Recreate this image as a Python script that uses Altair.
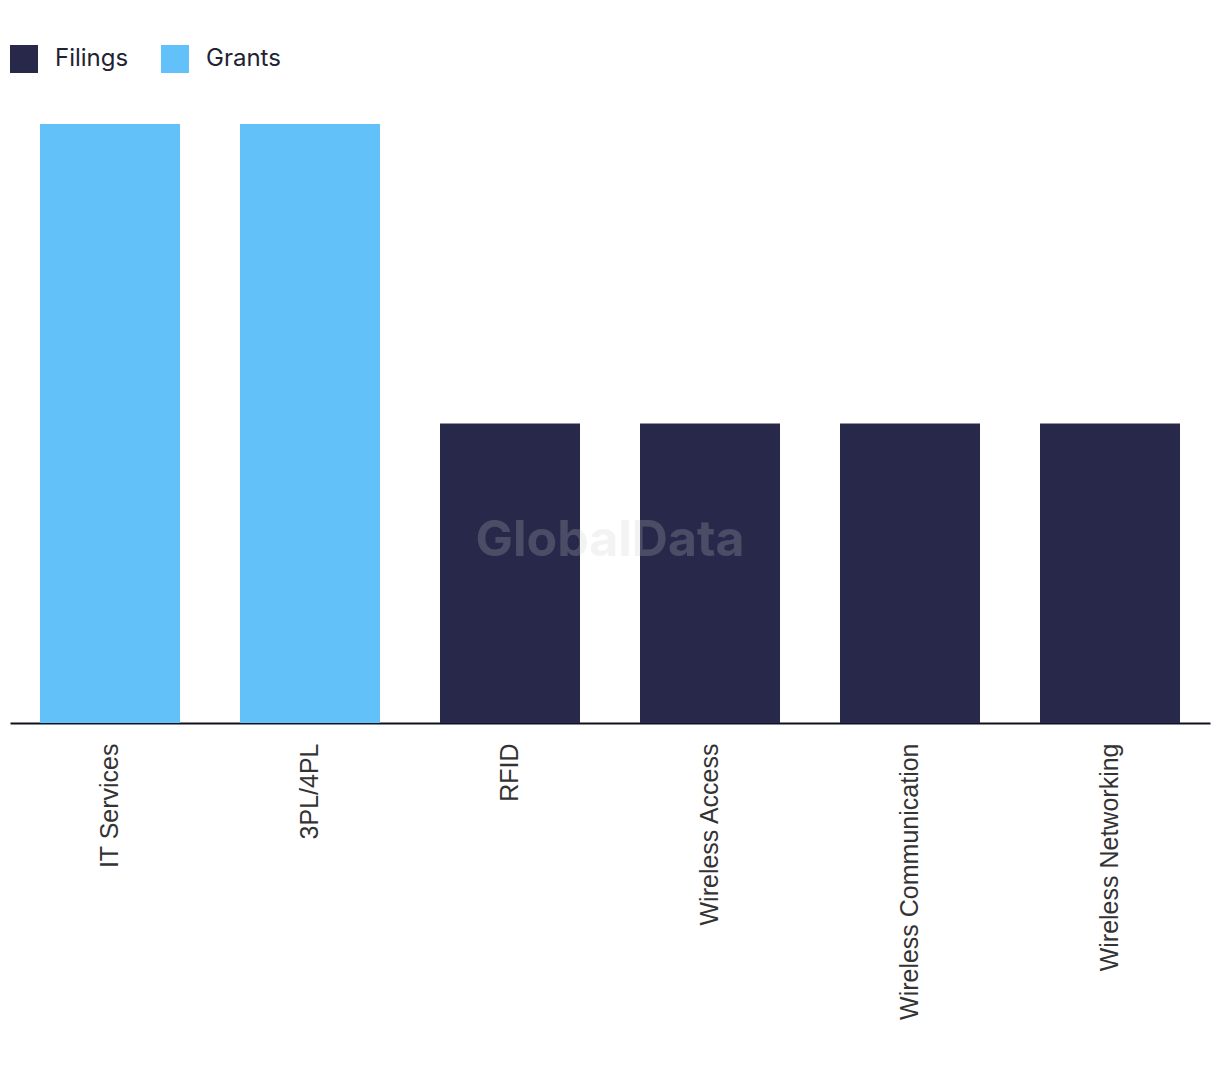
import altair as alt
import pandas as pd

categories = ["IT Services", "3PL/4PL", "RFID", "Wireless Access", "Wireless Communication", "Wireless Networking"]
filings = [0, 0, 1, 1, 1, 1]
grants = [2, 2, 0, 0, 0, 0]

rows = []
for c, f, g in zip(categories, filings, grants):
    rows.append({"category": c, "type": "Filings", "value": f})
    rows.append({"category": c, "type": "Grants", "value": g})
df = pd.DataFrame(rows)

bars = alt.Chart(df).mark_bar().encode(
    x=alt.X("category:N", sort=categories,
            scale=alt.Scale(paddingInner=0.3, paddingOuter=0.15),
            axis=alt.Axis(title=None, labelAngle=270, labelFontSize=25, labelColor="#333333",
                          labelFont="Liberation Sans", labelPadding=20, ticks=False,
                          labelLimit=0, domainColor="#111122", domainWidth=2,
                          labelAlign="right", labelBaseline="middle")),
    y=alt.Y("value:Q", stack="zero", scale=alt.Scale(domain=[0, 2], nice=False),
            axis=None),
    color=alt.Color("type:N", sort=["Filings", "Grants"],
                    scale=alt.Scale(domain=["Filings", "Grants"], range=["#28284b", "#63c1f9"]),
                    legend=alt.Legend(title=None, orient="none", legendX=0, legendY=-79,
                                      direction="horizontal", symbolType="square",
                                      symbolSize=784, symbolStrokeWidth=0, symbolOpacity=1,
                                      labelFontSize=24, labelFont="Inter", labelColor="#222233",
                                      labelOffset=17, columnPadding=32)),
    order=alt.Order("type:N"),
)

watermark = alt.Chart(pd.DataFrame({"t": ["GlobalData"]})).mark_text(
    fontSize=50, fontWeight="bold", font="Inter", color="#cbcbcb", opacity=0.22,
    align="center", baseline="middle"
).encode(text="t:N", x=alt.value(600), y=alt.value(417))

chart = alt.layer(bars, watermark).properties(
    width=1200, height=599,
    autosize=alt.AutoSizeParams(type="none"),
    padding={"left": 2, "top": 116, "right": 2, "bottom": 340},
).configure_view(stroke=None).configure_axis(grid=False)

chart.save("out.html", embed_options={"renderer": "svg", "actions": False})
